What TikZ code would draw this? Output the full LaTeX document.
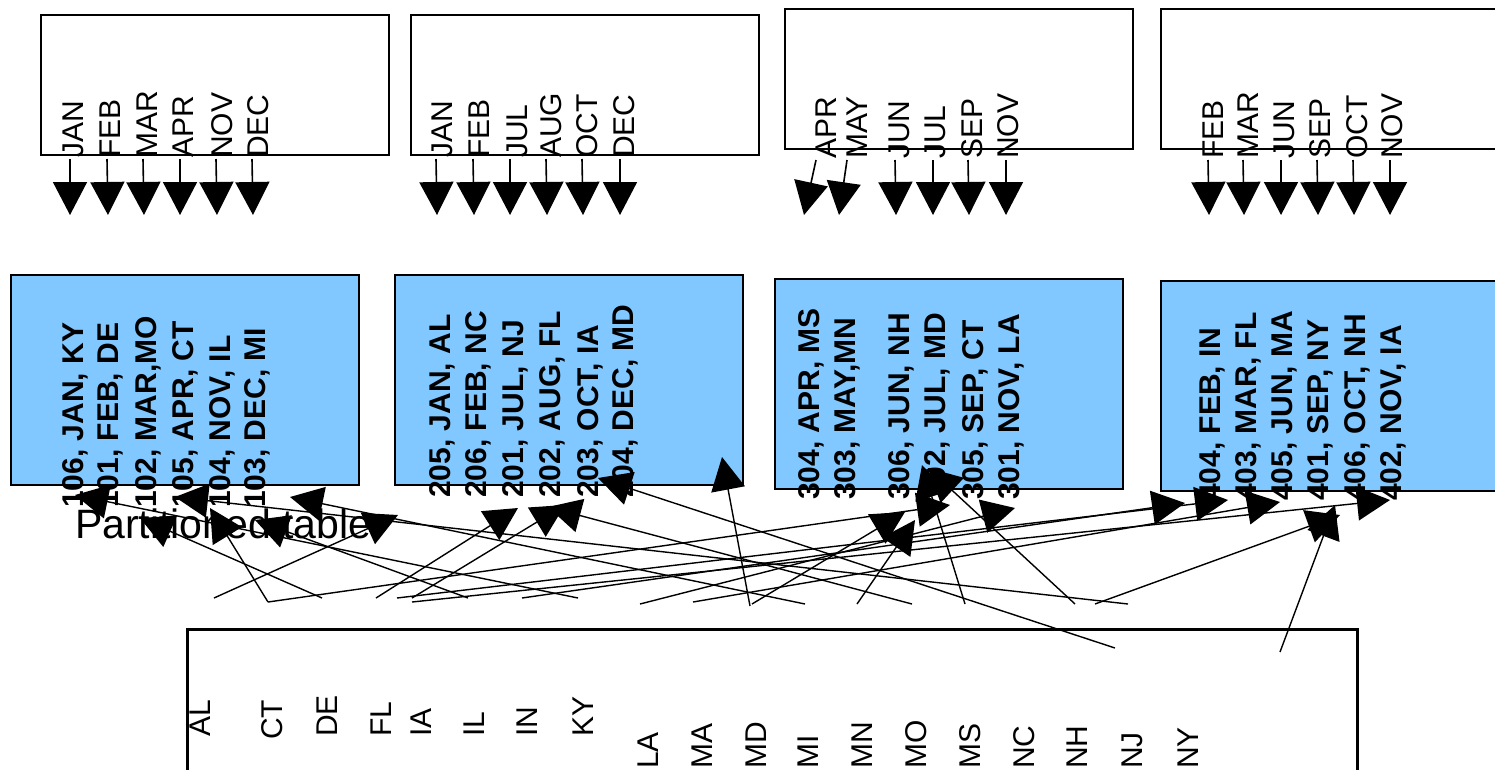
\documentclass[tikz,border=0pt]{standalone}
\usepackage{fontspec}
\setmainfont{Liberation Sans}
\usetikzlibrary{arrows.meta,positioning}
\definecolor{partblue}{RGB}{128,200,255}
\tikzset{
frame/.style={draw=black,line width=2pt,minimum width=348pt,minimum height=140pt,anchor=north west,inner sep=0pt},
partbox/.style={draw=black,line width=2pt,fill=partblue,minimum width=348pt,minimum height=210pt,anchor=north west,inner sep=0pt},
month/.style={rotate=90,anchor=west,inner sep=0pt,font=\fontsize{30}{33}\selectfont},
rowtext/.style={rotate=90,anchor=west,inner sep=0pt,font=\fontsize{30}{33}\selectfont\bfseries},
statename/.style={rotate=90,anchor=west,inner sep=0pt,font=\fontsize{30}{33}\selectfont},
feed/.style={-{Triangle[length=33pt,width=34pt]},line width=1.6pt},
link/.style={-{Triangle[length=33pt,width=34pt]},line width=1.4pt}
}

\begin{document}
\begin{tikzpicture}[x=1pt,y=-1pt]
\useasboundingbox (0,0) rectangle (1495,769);

% partition functions
\node[frame] (pf1) at (40,14) {};
\node[frame] (pf2) at (410,14) {};
\node[frame] (pf3) at (784,8) {};
\node[frame,minimum width=360pt] (pf4) at (1160,8) {};

\node[month] (m1jan) at (73,158) {JAN};
\node[month] (m1feb) at (110,158) {FEB};
\node[month] (m1mar) at (147,158) {MAR};
\node[month] (m1apr) at (183,158) {APR};
\node[month] (m1nov) at (222,158) {NOV};
\node[month] (m1dec) at (258,158) {DEC};
\node[month] (m2jan) at (442,158) {JAN};
\node[month] (m2feb) at (479,158) {FEB};
\node[month] (m2jul) at (517,158) {JUL};
\node[month] (m2aug) at (551,158) {AUG};
\node[month] (m2oct) at (587,158) {OCT};
\node[month] (m2dec) at (624,158) {DEC};
\node[month] (m3apr) at (826,159) {APR};
\node[month] (m3may) at (857,159) {MAY};
\node[month] (m3jun) at (899,159) {JUN};
\node[month] (m3jul) at (935,159) {JUL};
\node[month] (m3sep) at (972,159) {SEP};
\node[month] (m3nov) at (1008,159) {NOV};
\node[month] (m4feb) at (1213,159) {FEB};
\node[month] (m4mar) at (1248,159) {MAR};
\node[month] (m4jun) at (1284,159) {JUN};
\node[month] (m4sep) at (1320,159) {SEP};
\node[month] (m4oct) at (1357,159) {OCT};
\node[month] (m4nov) at (1392,159) {NOV};

\draw[feed] (m1jan.west) ++(-3,1) -- ++(0,56);
\draw[feed] (m1feb.west) ++(-3,1) -- ++(1,56);
\draw[feed] (m1mar.west) ++(-4,1) -- ++(1,56);
\draw[feed] (m1apr.west) ++(-3,1) -- ++(0,56);
\draw[feed] (m1nov.west) ++(-6,1) -- ++(1,56);
\draw[feed] (m1dec.west) ++(-6,1) -- ++(1,56);
\draw[feed] (m2jan.west) ++(-6,1) -- ++(1,56);
\draw[feed] (m2feb.west) ++(-6,1) -- ++(1,56);
\draw[feed] (m2jul.west) ++(-7,1) -- ++(0,56);
\draw[feed] (m2aug.west) ++(-5,1) -- ++(1,56);
\draw[feed] (m2oct.west) ++(-5,1) -- ++(1,56);
\draw[feed] (m2dec.west) ++(-4,1) -- ++(0,56);
\draw[feed] (m3apr.west) ++(-10,1) -- ++(-12,55);
\draw[feed] (m3may.west) ++(-10,1) -- ++(-8,55);
\draw[feed] (m3jun.west) ++(-4,1) -- ++(1,55);
\draw[feed] (m3jul.west) ++(-2,1) -- ++(0,55);
\draw[feed] (m3sep.west) ++(-4,1) -- ++(1,55);
\draw[feed] (m3nov.west) ++(-2,1) -- ++(0,55);
\draw[feed] (m4feb.west) ++(-5,1) -- ++(1,55);
\draw[feed] (m4mar.west) ++(-5,1) -- ++(1,55);
\draw[feed] (m4jun.west) ++(-3,1) -- ++(0,55);
\draw[feed] (m4sep.west) ++(-3,1) -- ++(1,55);
\draw[feed] (m4oct.west) ++(-4,1) -- ++(1,55);
\draw[feed] (m4nov.west) ++(-2,1) -- ++(0,55);

% partitions
\node[partbox] (part1) at (10,274) {};
\node[partbox] (part2) at (394,274) {};
\node[partbox] (part3) at (774,278) {};
\node[partbox,minimum width=360pt] (part4) at (1160,280) {};

\node[rowtext] (r106) at (75,508) {106, JAN, KY};
\node[rowtext] (r101) at (110,508) {101, FEB, DE};
\node[rowtext] (r102) at (148,508) {102, MAR,MO};
\node[rowtext] (r105) at (185,508) {105, APR, CT};
\node[rowtext] (r104) at (222,508) {104, NOV, IL};
\node[rowtext] (r103) at (257,508) {103, DEC, MI};
\node[rowtext] (r205) at (442,498) {205, JAN, AL};
\node[rowtext] (r206) at (478,498) {206, FEB, NC};
\node[rowtext] (r201) at (515,498) {201, JUL, NJ};
\node[rowtext] (r202) at (552,498) {202, AUG, FL};
\node[rowtext] (r203) at (590,498) {203, OCT, IA};
\node[rowtext] (r204) at (625,498) {204, DEC, MD};
\node[rowtext] (r304) at (811,500) {304, APR, MS};
\node[rowtext] (r303) at (847,500) {303, MAY,MN};
\node[rowtext] (r306) at (901,500) {306, JUN, NH};
\node[rowtext] (r302) at (937,500) {302, JUL, MD};
\node[rowtext] (r305) at (975,500) {305, SEP, CT};
\node[rowtext] (r301) at (1011,500) {301, NOV, LA};
\node[rowtext] (r404) at (1212,501) {404, FEB, IN};
\node[rowtext] (r403) at (1248,501) {403, MAR, FL};
\node[rowtext] (r405) at (1284,501) {405, JUN, MA};
\node[rowtext] (r401) at (1320,501) {401, SEP, NY};
\node[rowtext] (r406) at (1357,501) {406, OCT, NH};
\node[rowtext] (r402) at (1393,501) {402, NOV, IA};

\node[anchor=base west,inner sep=0pt,font=\fontsize{41}{44}\selectfont] (caption) at (75,538) {Partitioned table};

% lookup table
\node[draw=black,line width=3pt,minimum width=1170pt,minimum height=150pt,anchor=north west,inner sep=0pt] (lookup) at (186,628) {};
\node[statename] (sAL) at (200,737) {AL};
\node[statename] (sCT) at (272,740) {CT};
\node[statename] (sDE) at (327,737) {DE};
\node[statename] (sFL) at (381,737) {FL};
\node[statename] (sIA) at (421,737) {IA};
\node[statename] (sIL) at (474,737) {IL};
\node[statename] (sIN) at (527,737) {IN};
\node[statename] (sKY) at (583,737) {KY};
\node[statename] (sLA) at (648,769) {LA};
\node[statename] (sMA) at (702,769) {MA};
\node[statename] (sMD) at (756,769) {MD};
\node[statename] (sMI) at (808,769) {MI};
\node[statename] (sMN) at (862,769) {MN};
\node[statename] (sMO) at (916,769) {MO};
\node[statename] (sMS) at (970,769) {MS};
\node[statename] (sNC) at (1024,769) {NC};
\node[statename] (sNH) at (1077,769) {NH};
\node[statename] (sNJ) at (1132,769) {NJ};
\node[statename] (sNY) at (1188,769) {NY};

% pointers
\coordinate (oAL) at (214,598);
\coordinate (oCT) at (268,602);
\coordinate (oDE) at (322,598);
\coordinate (oFL) at (376,598);
\coordinate (oFLb) at (397,598);
\coordinate (oIA) at (412,598);
\coordinate (oIAb) at (412,602);
\coordinate (oIL) at (468,598);
\coordinate (oIN) at (522,598);
\coordinate (oKY) at (578,598);
\coordinate (oLA) at (640,604);
\coordinate (oMA) at (693,602);
\coordinate (oMD) at (750,606);
\coordinate (oMDb) at (752,604);
\coordinate (oMI) at (805,604);
\coordinate (oMN) at (857,604);
\coordinate (oMO) at (912,604);
\coordinate (oMS) at (965,604);
\coordinate (oNH) at (1075,604);
\coordinate (oNHb) at (1095,604);
\coordinate (oNC) at (1128,604);
\coordinate (oNJ) at (1115,648);
\coordinate (oNY) at (1280,652);

\draw[link] (oKY) -- (75,495);
\draw[link] (oDE) -- (140,518);
\draw[link] (oNC) -- (175,497);
\draw[link] (oCT) -- (210,508);
\draw[link] (oIL) -- (255,520);
\draw[link] (oMI) -- (290,497);
\draw[link] (oAL) -- (398,515);
\draw[link] (oFL) -- (518,508);
\draw[link] (oMO) -- (548,507);
\draw[link] (oIA) -- (565,505);
\draw[link] (oNJ) -- (598,478);
\draw[link] (oMD) -- (722,457);
\draw[link] (oMDb) -- (905,512);
\draw[link] (oMN) -- (915,520);
\draw[link] (oMS) -- (922,465);
\draw[link] (oNH) -- (928,468);
\draw[link] (oCT) -- (950,505);
\draw[link] (oLA) -- (1015,508);
\draw[link] (oIN) -- (1185,503);
\draw[link] (oFLb) -- (1228,500);
\draw[link] (oMA) -- (1280,502);
\draw[link] (oNY) -- (1335,505);
\draw[link] (oNHb) -- (1340,515);
\draw[link] (oIAb) -- (1390,500);
\end{tikzpicture}
\end{document}
